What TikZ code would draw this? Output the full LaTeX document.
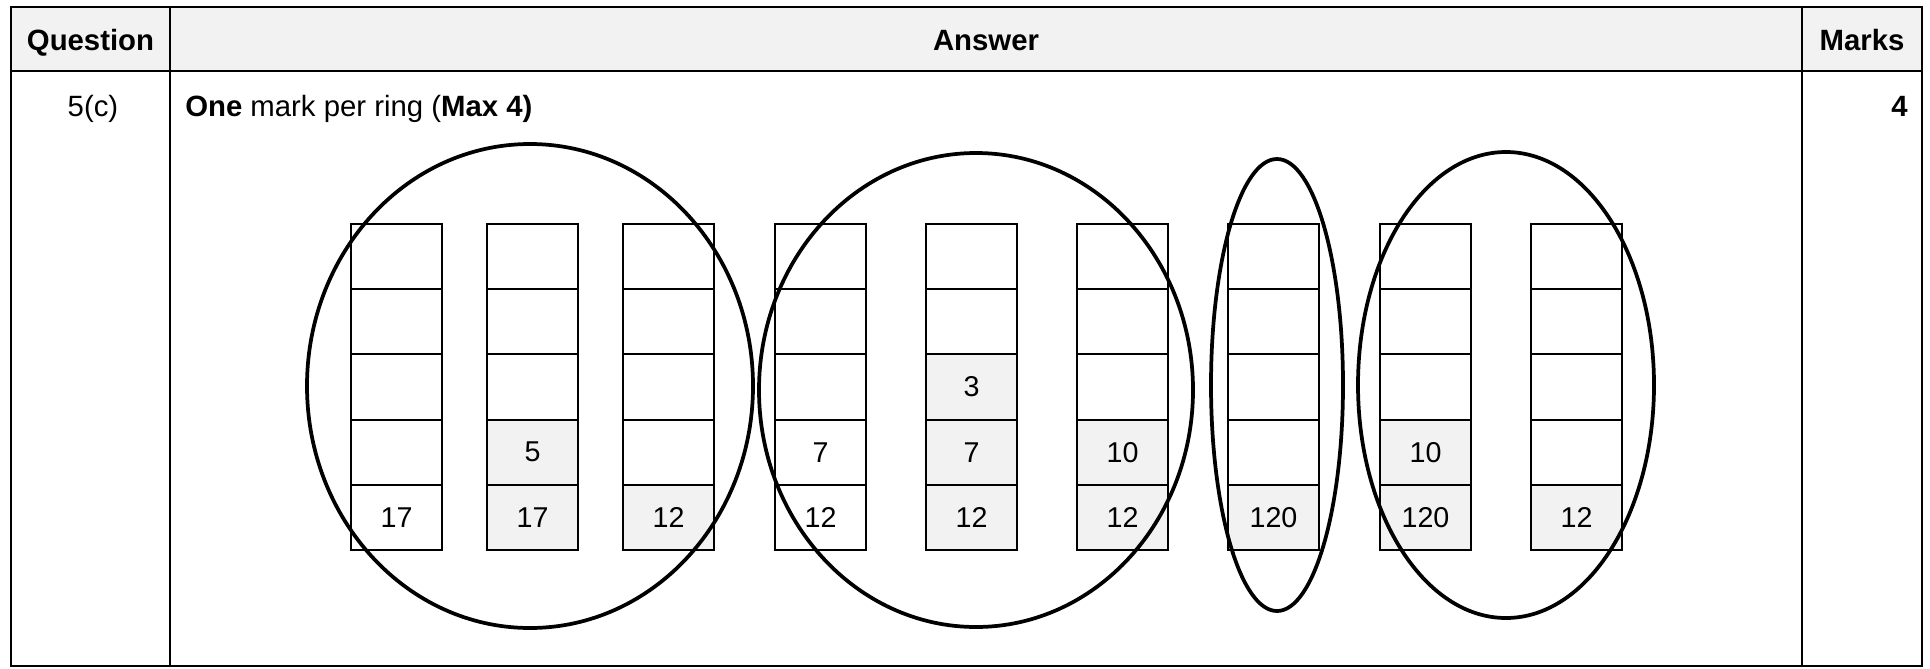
\documentclass[tikz,border=0pt]{standalone}
\usepackage{fontspec}
\setmainfont{Liberation Sans}
\definecolor{hdrgray}{HTML}{F2F2F2}
\begin{document}
\begin{tikzpicture}[x=0.75pt,y=-0.75pt,
  tline/.style={line width=1.5pt},
  cellbox/.style={rectangle,draw,line width=1.5pt,minimum width=68.25pt,minimum height=48.9pt,inner sep=0pt,outer sep=0pt,font=\fontsize{21.5}{26}\selectfont},
  grayed/.style={fill=hdrgray},
  stackline/.style={line width=1.8pt},
  ring/.style={line width=2.8pt},
  txt/.style={inner sep=0pt,font=\fontsize{22}{26}\selectfont}]
\useasboundingbox (0,0) rectangle (1930,668);
% header
\fill[hdrgray] (11,7) rectangle (1922,71);
\draw[tline] (11,7) rectangle (1922,666);
\draw[tline] (11,71) -- (1922,71);
\draw[tline] (170,7) -- (170,666);
\draw[tline] (1802,7) -- (1802,666);
\node[txt,anchor=base] (hq) at (90.5,50) {\textbf{Question}};
\node[txt,anchor=base] (ha) at (986,50) {\textbf{Answer}};
\node[txt,anchor=base] (hm) at (1862,50) {\textbf{Marks}};
\node[txt,anchor=base] (q) at (93,116) {5(c)};
\node[txt,anchor=base west] (ans) at (185,116) {\textbf{One} mark per ring (\textbf{Max 4)}};
\node[txt,anchor=base east] (mk) at (1908,116) {\textbf{4}};
% grid of empty cells
\foreach \s/\cx in {1/396.5,2/532.5,3/668.5,4/820.5,5/971.5,6/1122.5,7/1273.5,8/1425.5,9/1576.5}{
  \foreach \r/\cy in {1/256.6,2/321.8,3/387,4/452.2,5/517.4}{
    \node[cellbox] (c\s\r) at (\cx,\cy) {};
  }
}
% filled cells
\node[cellbox] (t15) at (c15) {17};
\node[cellbox,grayed] (t24) at (c24) {5};
\node[cellbox,grayed] (t25) at (c25) {17};
\node[cellbox,grayed] (t35) at (c35) {12};
\node[cellbox] (t44) at (c44) {7};
\node[cellbox] (t45) at (c45) {12};
\node[cellbox,grayed] (t53) at (c53) {3};
\node[cellbox,grayed] (t54) at (c54) {7};
\node[cellbox,grayed] (t55) at (c55) {12};
\node[cellbox,grayed] (t64) at (c64) {10};
\node[cellbox,grayed] (t65) at (c65) {12};
\node[cellbox,grayed] (t75) at (c75) {120};
\node[cellbox,grayed] (t84) at (c84) {10};
\node[cellbox,grayed] (t85) at (c85) {120};
\node[cellbox,grayed] (t95) at (c95) {12};
% stack outlines
\foreach \s in {1,...,9}{
  \draw[stackline] (c\s1.north west) rectangle (c\s5.south east);
}
% rings
\draw[ring] (530,386) ellipse [x radius=167.25pt, y radius=181.5pt];
\draw[ring] (976,390) ellipse [x radius=162.75pt, y radius=177.75pt];
\draw[ring] (1277,385) ellipse [x radius=49.5pt, y radius=169.5pt];
\draw[ring] (1506,385) ellipse [x radius=111pt, y radius=174.75pt];
\end{tikzpicture}
\end{document}
